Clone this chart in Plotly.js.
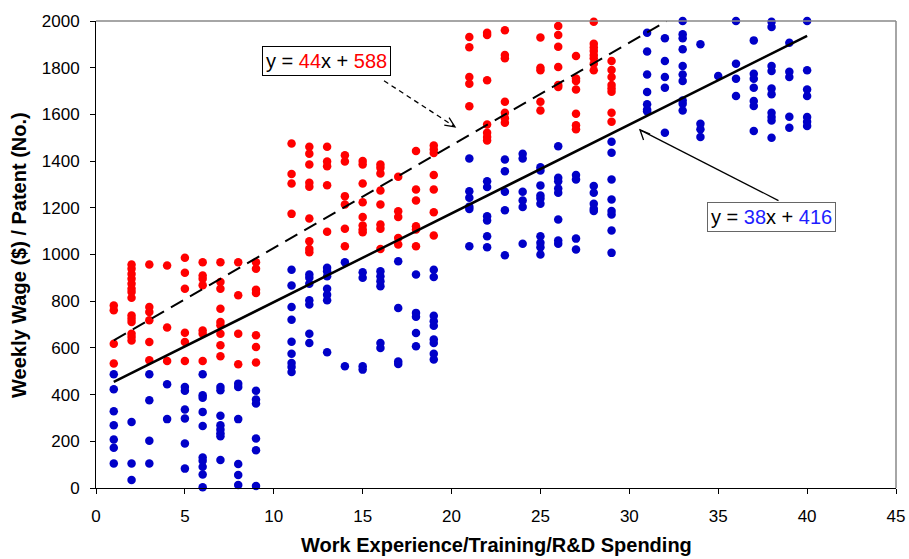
<!DOCTYPE html>
<html>
<head>
<meta charset="utf-8">
<script src="https://cdn.plot.ly/plotly-3.0.1.min.js"></script>
<style>html,body{margin:0;padding:0;background:#fff;}#chart{width:909px;height:559px;}</style>
</head>
<body>
<div id="chart"></div>
<script>
// Red series (Weekly Wage) : x columns and the values in each column
var redCols = [1, 2, 3, 4, 5, 6, 7, 8, 9, 11, 12, 13, 14, 15, 16, 17, 18, 19, 21, 22, 23, 25, 26, 27, 28, 29];
var redVals = [
  [782, 761, 618, 533],
  [957, 939, 917, 896, 875, 853, 839, 815, 739, 725, 711, 661, 647, 632],
  [957, 775, 754, 718, 625, 547],
  [953, 687, 544],
  [986, 922, 853, 665, 625, 544],
  [967, 910, 896, 868, 675, 661, 544],
  [967, 882, 853, 768, 711, 697, 661, 611, 564],
  [967, 825, 661, 530],
  [967, 939, 849, 835, 654, 604, 537],
  [1475, 1345, 1304, 1174],
  [1461, 1432, 1385, 1307, 1290, 1154, 1057, 1024, 1010],
  [1461, 1398, 1378, 1297, 1097],
  [1425, 1398, 1250, 1214, 1110, 1035],
  [1400, 1385, 1304, 1224, 1161, 1124, 1107, 1095],
  [1385, 1371, 1347, 1274, 1214, 1128, 1110, 1024],
  [1333, 1185, 1161, 1071, 1043],
  [1443, 1278, 1231, 1121, 1107, 1035],
  [1467, 1450, 1435, 1340, 1278, 1181, 1081],
  [1931, 1888, 1760, 1731, 1635],
  [1950, 1940, 1746, 1557, 1521, 1503, 1488],
  [1960, 1854, 1840, 1654, 1607, 1583, 1564],
  [1929, 1800, 1789, 1654, 1617],
  [1979, 1940, 1890, 1803, 1726, 1717],
  [1850, 1754, 1743, 1707, 1603, 1554, 1536],
  [1997, 1903, 1886, 1871, 1854, 1840, 1817, 1789],
  [1829, 1790, 1760, 1726, 1711, 1697, 1607, 1569]
];

// Blue series (Patents)
var blueCols = [1, 2, 3, 4, 5, 6, 7, 8, 9, 11, 12, 13, 14, 15, 16, 17, 18, 19, 21, 22, 23, 24, 25, 26, 27, 28, 29, 31, 32, 33, 34, 35, 36, 37, 38, 39, 40];
var blueVals = [
  [487, 423, 329, 269, 208, 172, 105],
  [283, 105, 34],
  [487, 376, 202, 105],
  [444, 295],
  [433, 416, 336, 298, 191, 83],
  [487, 397, 387, 326, 266, 131, 117, 91, 58, 3],
  [433, 419, 309, 269, 251, 234, 222, 120],
  [447, 433, 295, 103, 56, 13],
  [416, 379, 362, 212, 162, 9],
  [935, 867, 775, 721, 626, 575, 535, 518, 497],
  [914, 900, 875, 804, 786, 661, 621],
  [943, 928, 907, 853, 828, 804, 581],
  [967, 521],
  [924, 900, 521, 507],
  [928, 907, 885, 864, 621, 600],
  [971, 771, 542, 531],
  [914, 750, 733, 664, 607],
  [935, 904, 738, 714, 695, 636, 621, 575, 550],
  [1411, 1271, 1243, 1205, 1195, 1035],
  [1314, 1289, 1164, 1146, 1078, 1031],
  [1407, 1357, 1269, 1190, 997],
  [1431, 1411, 1269, 1231, 1203, 1046],
  [1374, 1360, 1296, 1253, 1240, 1217, 1078, 1050, 1031, 1000],
  [1464, 1329, 1314, 1283, 1264, 1150, 1060, 1046],
  [1340, 1321, 1068, 1021],
  [1293, 1264, 1217, 1196, 1186],
  [1483, 1436, 1321, 1236, 1186, 1171, 1103, 1007],
  [1950, 1869, 1771, 1696, 1643, 1621, 1614],
  [1926, 1829, 1760, 1714, 1521],
  [2000, 1943, 1926, 1879, 1807, 1771, 1743, 1660, 1646, 1617],
  [1900, 1560, 1536, 1503],
  [1764],
  [2000, 1817, 1753, 1679],
  [1917, 1774, 1753, 1714, 1657, 1636, 1529],
  [1997, 1974, 1807, 1786, 1711, 1686, 1607, 1589, 1574, 1500],
  [1907, 1783, 1760, 1590, 1543],
  [2000, 1789, 1707, 1679, 1589, 1569, 1550]
];

// Trend lines (endpoints of the fitted lines)
var blueTrendX = [1, 40];
var blueTrendY = [454, 1936];
var redTrendX = [1, 32.1];
var redTrendY = [632, 2000];

// Axis ticks
var xTicks = [0, 5, 10, 15, 20, 25, 30, 35, 40, 45];
var yTicks = [0, 200, 400, 600, 800, 1000, 1200, 1400, 1600, 1800, 2000];

function flatten(cols, vals) {
  var xs = [], ys = [];
  for (var i = 0; i < cols.length; i++) {
    for (var j = 0; j < vals[i].length; j++) { xs.push(cols[i]); ys.push(vals[i][j]); }
  }
  return {x: xs, y: ys};
}
var red = flatten(redCols, redVals);
var blue = flatten(blueCols, blueVals);

var FONT = 'Liberation Sans, Arial, sans-serif';

var traces = [
  {x: red.x, y: red.y, type: 'scatter', mode: 'markers', cliponaxis: false,
   marker: {color: '#FF0000', size: 8.5}, hoverinfo: 'none'},
  {x: blue.x, y: blue.y, type: 'scatter', mode: 'markers', cliponaxis: false,
   marker: {color: '#0000C8', size: 8.5}, hoverinfo: 'none'},
  {x: blueTrendX, y: blueTrendY, type: 'scatter', mode: 'lines',
   line: {color: '#000', width: 2.5}, hoverinfo: 'none'},
  {x: redTrendX, y: redTrendY, type: 'scatter', mode: 'lines',
   line: {color: '#000', width: 2, dash: '14px,8px'}, hoverinfo: 'none'}
];

var axisCommon = {
  showgrid: false, zeroline: false, showline: true, linecolor: '#000', linewidth: 1,
  ticks: 'outside', ticklen: 5, tickcolor: '#000', tickwidth: 1,
  tickfont: {family: FONT, size: 17, color: '#000'}, tickmode: 'array'
};

var layout = {
  width: 909, height: 559,
  margin: {l: 96, r: 13, t: 21, b: 71},
  paper_bgcolor: '#fff', plot_bgcolor: '#fff',
  showlegend: false,
  xaxis: Object.assign({}, axisCommon, {range: [0, 45], tickvals: xTicks, ticktext: xTicks.map(String), ticklabelstandoff: 8}),
  yaxis: Object.assign({}, axisCommon, {range: [0, 2000], tickvals: yTicks, ticktext: yTicks.map(String), ticklabelstandoff: 7}),
  shapes: [
    {type: 'line', xref: 'paper', yref: 'paper', x0: 0, x1: 1, y0: 1, y1: 1, line: {color: '#888', width: 1.5}},
    {type: 'line', xref: 'paper', yref: 'paper', x0: 1, x1: 1, y0: 0, y1: 1, line: {color: '#888', width: 1.5}},
    // dashed arrow to red trend line
    {type: 'line', xref: 'x', yref: 'y', x0: 16.2, y0: 1744, x1: 20.19, y1: 1547, line: {color: '#000', width: 1.3, dash: '5px,4px'}},
    {type: 'path', xref: 'x', yref: 'y', path: 'M19.59,1554 L20.19,1547 L19.86,1586', line: {color: '#000', width: 1.3}},
    // solid arrow to blue trend line
    {type: 'line', xref: 'x', yref: 'y', x0: 38.39, y0: 1231, x1: 30.6, y1: 1534, line: {color: '#000', width: 1.3}},
    {type: 'path', xref: 'x', yref: 'y', path: 'M30.80,1490 L30.6,1534 L31.17,1516', line: {color: '#000', width: 1.3}}
  ],
  annotations: [
    {xref: 'x', yref: 'y', x: 12.94, y: 1829, showarrow: false,
     text: 'y = <span style="color:#FF0000">44</span>x + <span style="color:#FF0000">588</span>',
     font: {family: FONT, size: 20, color: '#000'}, bgcolor: '#fff', bordercolor: '#000', borderwidth: 1, borderpad: 3},
    {xref: 'x', yref: 'y', x: 37.99, y: 1162, showarrow: false,
     text: 'y = <span style="color:#1E1EFF">38</span>x + <span style="color:#1E1EFF">416</span>',
     font: {family: FONT, size: 20, color: '#000'}, bgcolor: '#fff', bordercolor: '#666', borderwidth: 1, borderpad: 3},
    {xref: 'paper', yref: 'paper', x: 0.5, y: -0.1214, xanchor: 'center', yanchor: 'middle', showarrow: false,
     text: '<b>Work Experience/Training/R&amp;D Spending</b>', font: {family: FONT, size: 20, color: '#000'}},
    {xref: 'paper', yref: 'paper', x: -0.097, y: 0.5, xanchor: 'center', yanchor: 'middle', showarrow: false, textangle: -90,
     text: '<b>Weekly Wage ($) / Patent (No.)</b>', font: {family: FONT, size: 20, color: '#000'}}
  ]
};

Plotly.newPlot('chart', traces, layout, {staticPlot: true, displayModeBar: false});
</script>
</body>
</html>
